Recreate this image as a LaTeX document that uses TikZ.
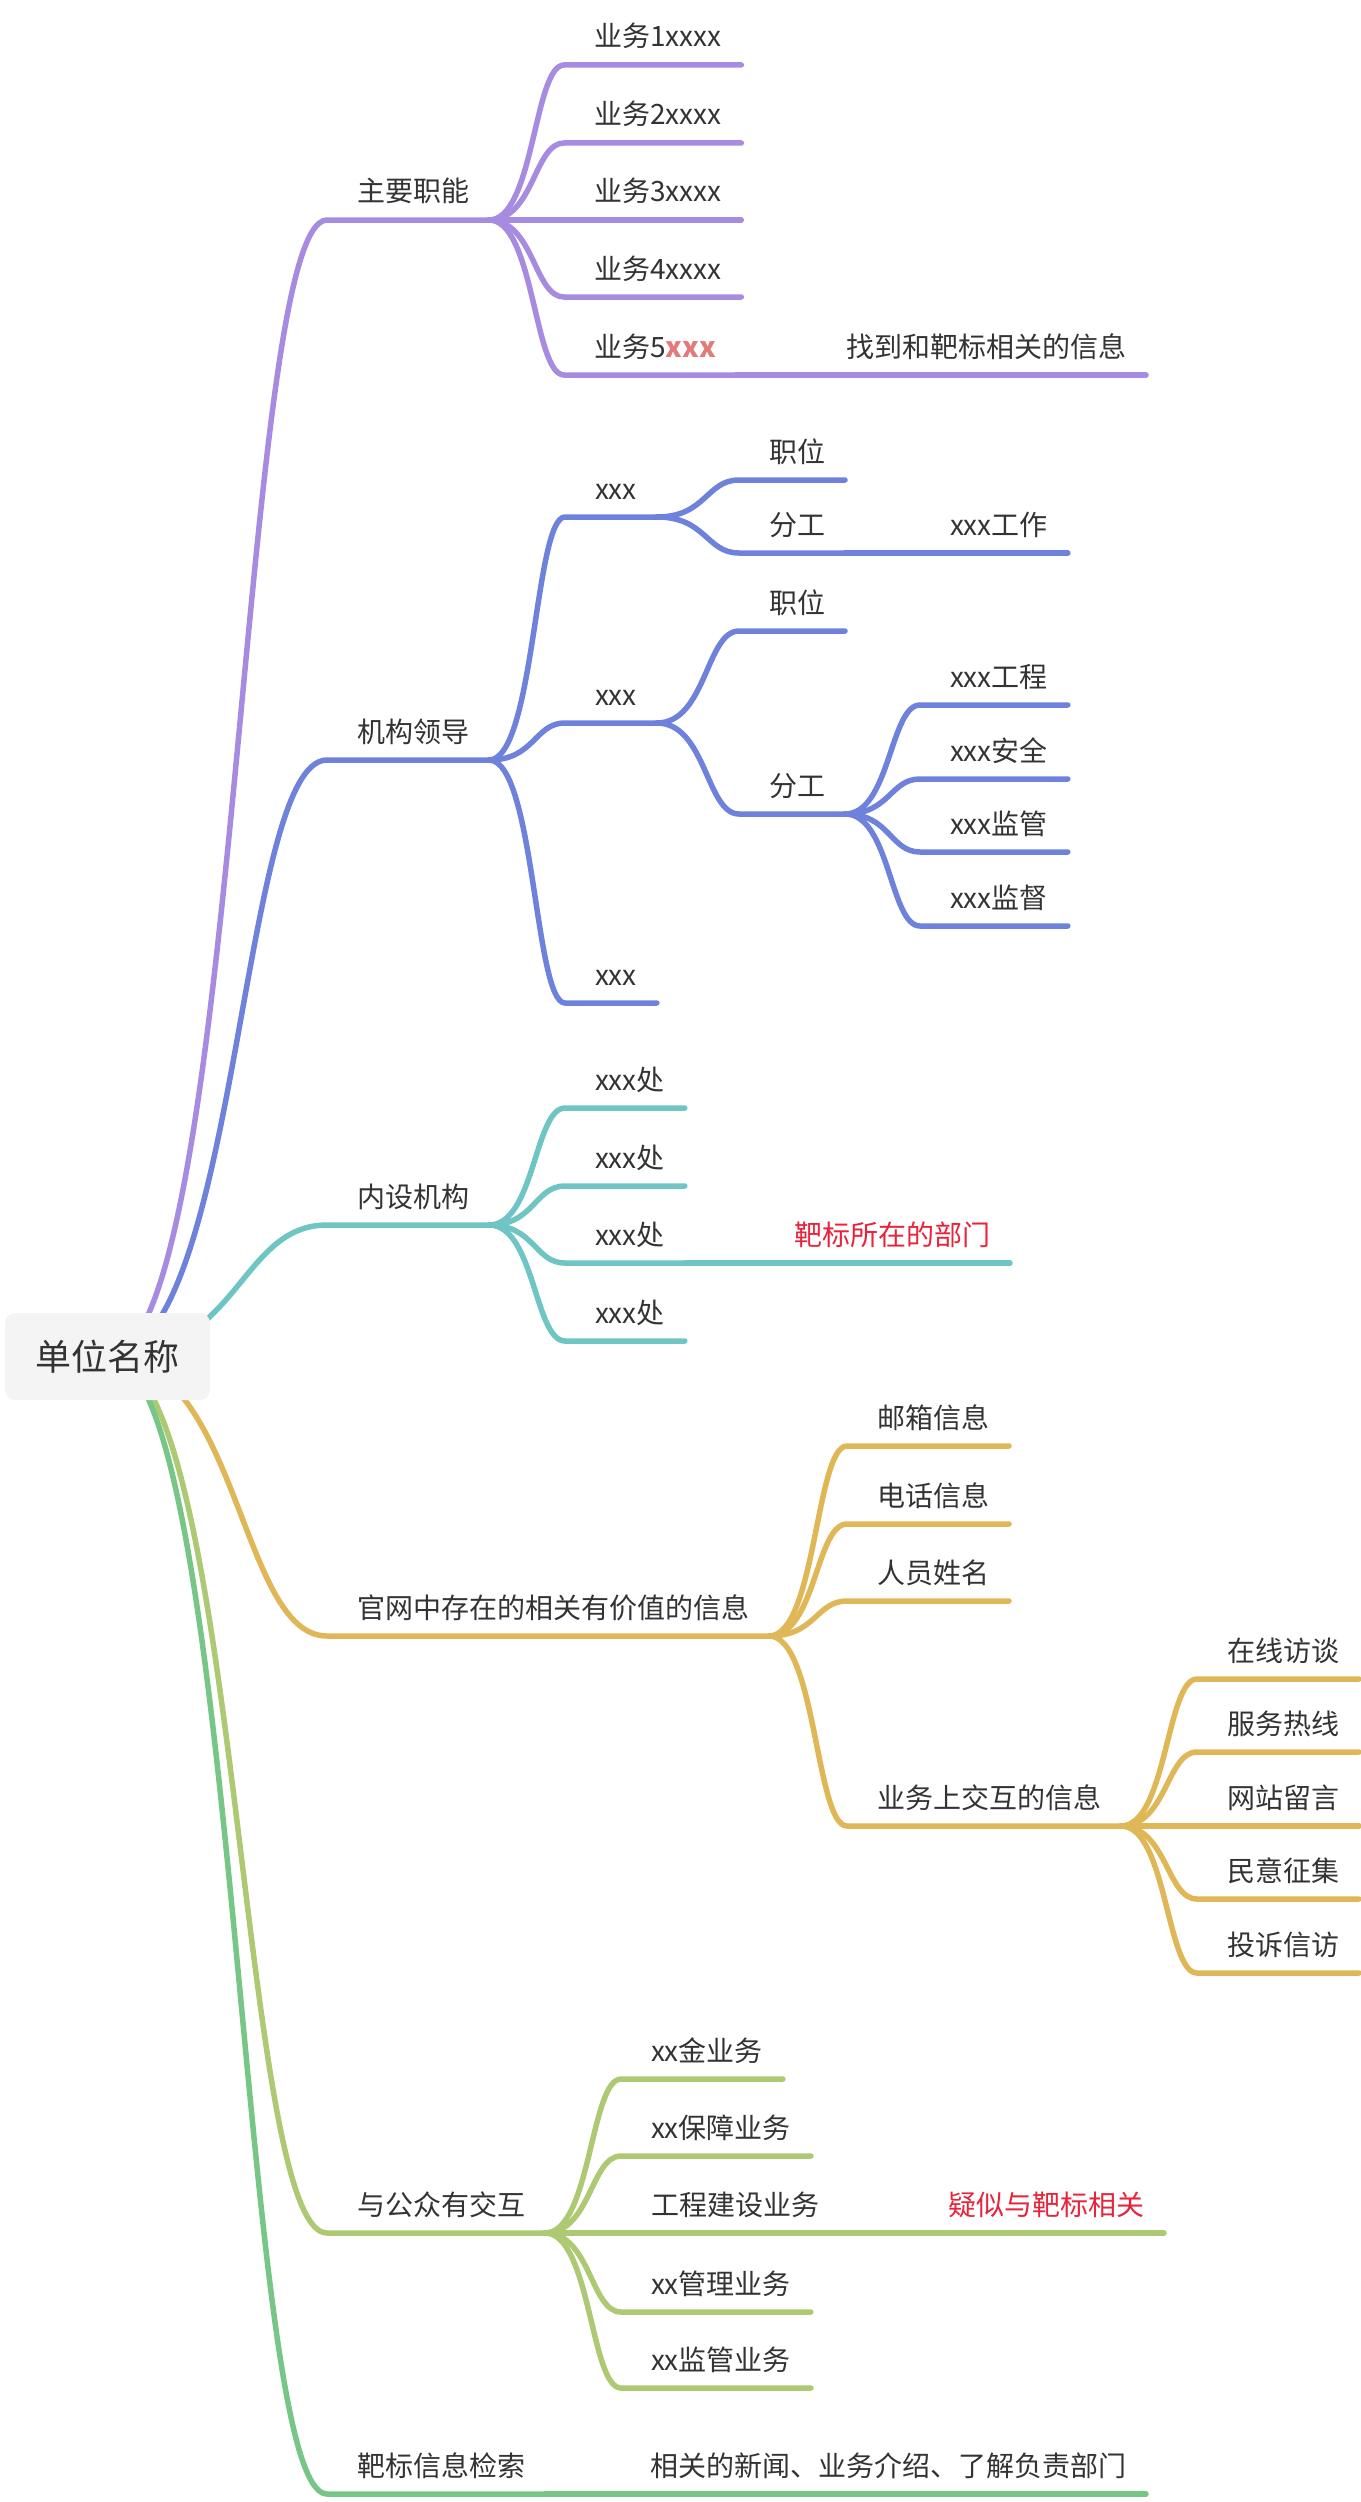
\documentclass[tikz,border=0pt]{standalone}
\usepackage{fontspec}
\setmainfont{Noto Sans CJK SC}
\usepackage{xcolor}
\usetikzlibrary{calc,backgrounds}

\definecolor{mmpurple}{HTML}{A68BE0}
\definecolor{mmblue}{HTML}{6F82DB}
\definecolor{mmteal}{HTML}{6EC5C3}
\definecolor{mmgold}{HTML}{E0B757}
\definecolor{mmlime}{HTML}{AEC973}
\definecolor{mmgreen}{HTML}{77C687}
\definecolor{mmtext}{HTML}{333333}
\definecolor{mmred}{HTML}{E8233A}
\definecolor{mmsalmon}{HTML}{E27A7A}
\definecolor{mmroot}{HTML}{F4F4F4}

\begin{document}
\begin{tikzpicture}[
    x=1pt, y=-1pt,
    rootbox/.style={fill=mmroot, rounded corners=10pt, minimum width=205pt, minimum height=87pt, inner sep=0pt, text=mmtext, font=\fontsize{36pt}{42pt}\selectfont},
    topic/.style={anchor=south west, inner sep=0pt, outer sep=0pt, text depth=18pt, text=mmtext, font=\fontsize{28pt}{34pt}\selectfont,
        execute at begin node=\hspace*{30pt}, execute at end node=\hspace*{20pt}},
    branch/.style={line width=5.5pt, line cap=round},
    link/.style={to path={.. controls ($(\tikztostart)!0.6!(\tikztotarget|-\tikztostart)$) and ($(\tikztotarget)!0.4!(\tikztostart|-\tikztotarget)$) .. (\tikztotarget)}}
]
\useasboundingbox (0,0) rectangle (1360,2502);

% root
\node[rootbox] (root) at (107.5,1356.5) {单位名称};

% first level
\node[topic] (zyzn) at (327,220) {主要职能};
\node[topic] (jgld) at (327,760) {机构领导};
\node[topic] (nsjg) at (327,1225) {内设机构};
\node[topic] (gwxx) at (327,1636) {官网中存在的相关有价值的信息};
\node[topic] (gzjh) at (327,2233) {与公众有交互};
\node[topic] (bbjs) at (327,2494) {靶标信息检索};

% 主要职能
\node[topic] (yw1) at (564,65) {业务1xxxx};
\node[topic] (yw2) at (564,143) {业务2xxxx};
\node[topic] (yw3) at (564,220) {业务3xxxx};
\node[topic] (yw4) at (564,297) {业务4xxxx};
\node[topic] (yw5) at (564,375) {业务5{\bfseries\color{mmsalmon}xxx}};
\node[topic] (yw5a) at (816,375) {找到和靶标相关的信息};

% 机构领导
\node[topic] (ld1) at (565,517) {xxx};
\node[topic] (ld2) at (565,723) {xxx};
\node[topic] (ld3) at (565,1003) {xxx};
\node[topic] (ld1zw) at (739,480) {职位};
\node[topic] (ld1fg) at (739,553) {分工};
\node[topic] (ld1gz) at (920,553) {xxx工作};
\node[topic] (ld2zw) at (739,631) {职位};
\node[topic] (ld2fg) at (739,814) {分工};
\node[topic] (fg1) at (920,705) {xxx工程};
\node[topic] (fg2) at (920,779) {xxx安全};
\node[topic] (fg3) at (920,852) {xxx监管};
\node[topic] (fg4) at (920,926) {xxx监督};

% 内设机构
\node[topic] (ns1) at (565,1108) {xxx处};
\node[topic] (ns2) at (565,1186) {xxx处};
\node[topic] (ns3) at (565,1263) {xxx处};
\node[topic] (ns4) at (565,1341) {xxx处};
\node[topic, text=mmred] (ns3a) at (764,1263) {靶标所在的部门};

% 官网中存在的相关有价值的信息
\node[topic] (gw1) at (847,1446) {邮箱信息};
\node[topic] (gw2) at (847,1524) {电话信息};
\node[topic] (gw3) at (847,1601) {人员姓名};
\node[topic] (gw4) at (847,1826) {业务上交互的信息};
\node[topic] (jh1) at (1197,1679) {在线访谈};
\node[topic] (jh2) at (1197,1752) {服务热线};
\node[topic] (jh3) at (1197,1826) {网站留言};
\node[topic] (jh4) at (1197,1899) {民意征集};
\node[topic] (jh5) at (1197,1973) {投诉信访};

% 与公众有交互
\node[topic] (gz1) at (621,2079) {xx金业务};
\node[topic] (gz2) at (621,2156) {xx保障业务};
\node[topic] (gz3) at (621,2233) {工程建设业务};
\node[topic] (gz4) at (621,2312) {xx管理业务};
\node[topic] (gz5) at (621,2388) {xx监管业务};
\node[topic, text=mmred] (gz3a) at (918,2233) {疑似与靶标相关};

% 靶标信息检索
\node[topic] (bbjs1) at (620,2494) {相关的新闻、业务介绍、了解负责部门};

% branches from the root, under the root box
\begin{pgfonlayer}{background}
\draw[branch, mmpurple] (root.center) to[link] (zyzn.south west) -- (zyzn.south east);
\draw[branch, mmblue] (root.center) to[link] (jgld.south west) -- (jgld.south east);
\draw[branch, mmteal] (root.center) to[link] (nsjg.south west) -- (nsjg.south east);
\draw[branch, mmgold] (root.center) to[link] (gwxx.south west) -- (gwxx.south east);
\draw[branch, mmlime] (root.center) to[link] (gzjh.south west) -- (gzjh.south east);
\draw[branch, mmgreen] (root.center) to[link] (bbjs.south west) -- (bbjs.south east);
\end{pgfonlayer}

% purple
\draw[branch, mmpurple] (zyzn.south east) to[link] (yw1.south west) -- (yw1.south east);
\draw[branch, mmpurple] (zyzn.south east) to[link] (yw2.south west) -- (yw2.south east);
\draw[branch, mmpurple] (zyzn.south east) to[link] (yw3.south west) -- (yw3.south east);
\draw[branch, mmpurple] (zyzn.south east) to[link] (yw4.south west) -- (yw4.south east);
\draw[branch, mmpurple] (zyzn.south east) to[link] (yw5.south west) -- (yw5.south east);
\draw[branch, mmpurple] (yw5.south east) to[link] (yw5a.south west) -- (yw5a.south east);

% blue
\draw[branch, mmblue] (jgld.south east) to[link] (ld1.south west) -- (ld1.south east);
\draw[branch, mmblue] (jgld.south east) to[link] (ld2.south west) -- (ld2.south east);
\draw[branch, mmblue] (jgld.south east) to[link] (ld3.south west) -- (ld3.south east);
\draw[branch, mmblue] (ld1.south east) to[link] (ld1zw.south west) -- (ld1zw.south east);
\draw[branch, mmblue] (ld1.south east) to[link] (ld1fg.south west) -- (ld1fg.south east);
\draw[branch, mmblue] (ld1fg.south east) to[link] (ld1gz.south west) -- (ld1gz.south east);
\draw[branch, mmblue] (ld2.south east) to[link] (ld2zw.south west) -- (ld2zw.south east);
\draw[branch, mmblue] (ld2.south east) to[link] (ld2fg.south west) -- (ld2fg.south east);
\draw[branch, mmblue] (ld2fg.south east) to[link] (fg1.south west) -- (fg1.south east);
\draw[branch, mmblue] (ld2fg.south east) to[link] (fg2.south west) -- (fg2.south east);
\draw[branch, mmblue] (ld2fg.south east) to[link] (fg3.south west) -- (fg3.south east);
\draw[branch, mmblue] (ld2fg.south east) to[link] (fg4.south west) -- (fg4.south east);

% teal
\draw[branch, mmteal] (nsjg.south east) to[link] (ns1.south west) -- (ns1.south east);
\draw[branch, mmteal] (nsjg.south east) to[link] (ns2.south west) -- (ns2.south east);
\draw[branch, mmteal] (nsjg.south east) to[link] (ns3.south west) -- (ns3.south east);
\draw[branch, mmteal] (nsjg.south east) to[link] (ns4.south west) -- (ns4.south east);
\draw[branch, mmteal] (ns3.south east) to[link] (ns3a.south west) -- (ns3a.south east);

% gold
\draw[branch, mmgold] (gwxx.south east) to[link] (gw1.south west) -- (gw1.south east);
\draw[branch, mmgold] (gwxx.south east) to[link] (gw2.south west) -- (gw2.south east);
\draw[branch, mmgold] (gwxx.south east) to[link] (gw3.south west) -- (gw3.south east);
\draw[branch, mmgold] (gwxx.south east) to[link] (gw4.south west) -- (gw4.south east);
\draw[branch, mmgold] (gw4.south east) to[link] (jh1.south west) -- (jh1.south east);
\draw[branch, mmgold] (gw4.south east) to[link] (jh2.south west) -- (jh2.south east);
\draw[branch, mmgold] (gw4.south east) to[link] (jh3.south west) -- (jh3.south east);
\draw[branch, mmgold] (gw4.south east) to[link] (jh4.south west) -- (jh4.south east);
\draw[branch, mmgold] (gw4.south east) to[link] (jh5.south west) -- (jh5.south east);

% lime
\draw[branch, mmlime] (gzjh.south east) to[link] (gz1.south west) -- (gz1.south east);
\draw[branch, mmlime] (gzjh.south east) to[link] (gz2.south west) -- (gz2.south east);
\draw[branch, mmlime] (gzjh.south east) to[link] (gz3.south west) -- (gz3.south east);
\draw[branch, mmlime] (gzjh.south east) to[link] (gz4.south west) -- (gz4.south east);
\draw[branch, mmlime] (gzjh.south east) to[link] (gz5.south west) -- (gz5.south east);
\draw[branch, mmlime] (gz3.south east) to[link] (gz3a.south west) -- (gz3a.south east);

% green
\draw[branch, mmgreen] (bbjs.south east) to[link] (bbjs1.south west) -- (bbjs1.south east);

\end{tikzpicture}
\end{document}
